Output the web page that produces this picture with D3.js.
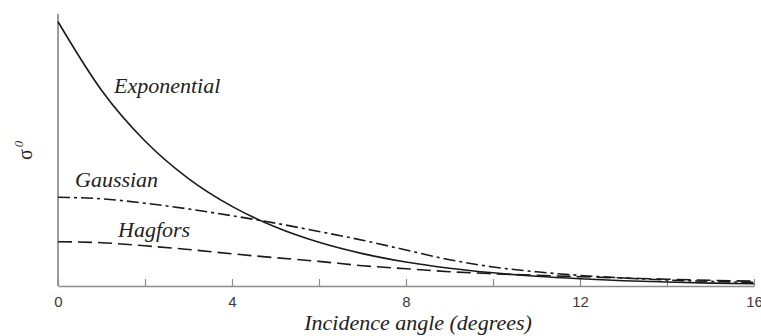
<!DOCTYPE html>
<html>
<head>
<meta charset="utf-8">
<script src="https://cdn.jsdelivr.net/npm/d3@7"></script>
<style>
  body { margin: 0; background: white; }
  svg { display: block; }
</style>
</head>
<body>
<script>
"use strict";

// incidence angle, degrees
const angles = [0, 1, 2, 3, 4, 5, 6, 7, 8, 9, 10, 11, 12, 13, 14, 15, 16];

// sigma0, arbitrary linear units
const exponential = [264.3, 195.8, 145.0, 107.4, 79.6, 59.0, 43.7, 32.4, 24.0, 17.8, 13.2, 9.7, 7.2, 5.3, 4.0, 2.9, 2.2];
const gaussian = [88.7, 87.2, 82.8, 77.0, 70.3, 62.8, 54.5, 45.8, 36.0, 26.3, 19.0, 14.2, 10.6, 8.0, 6.0, 4.6, 3.6];
const hagfors = [44.3, 43.3, 40.2, 36.5, 32.2, 28.3, 24.6, 20.3, 17.3, 14.3, 12.3, 10.7, 9.3, 8.0, 6.8, 5.7, 4.8];

const xTicks = [0, 2, 4, 6, 8, 10, 12, 14, 16];
const xTickLabels = [0, 4, 8, 12, 16];

const width = 761;
const height = 336;
const margin = { top: 14, right: 7, bottom: 50, left: 58 };

const svg = d3.select("body")
  .append("svg")
    .attr("width", width)
    .attr("height", height);

const x = d3.scaleLinear()
  .domain([0, 16])
  .range([margin.left, width - margin.right]);

const y = d3.scaleLinear()
  .domain([0, 272])
  .range([height - margin.bottom, margin.top]);

const axisColor = "#8c8c8c";

// y axis is just a bare line, no ticks
svg.append("line")
  .attr("x1", x(0)).attr("x2", x(0))
  .attr("y1", y(272)).attr("y2", y(0))
  .attr("stroke", axisColor)
  .attr("stroke-width", 1.7);

const xAxis = d3.axisBottom(x)
  .tickValues(xTicks)
  .tickSizeInner(-7)
  .tickSizeOuter(0)
  .tickFormat((d) => xTickLabels.includes(d) ? d : "");

const gx = svg.append("g")
  .attr("transform", `translate(0,${y(0)})`)
  .call(xAxis);

gx.select(".domain")
  .attr("stroke", axisColor)
  .attr("stroke-width", 1.7);
gx.selectAll(".tick line")
  .attr("stroke", axisColor)
  .attr("stroke-width", 1.2);
gx.selectAll(".tick text")
  .attr("y", 10)
  .attr("fill", "#3a3a3a")
  .style("font-family", "'Liberation Sans', Arial, sans-serif")
  .style("font-size", "15px");

// curves
const series = [
  { name: "Exponential", values: exponential, dash: null },
  { name: "Gaussian", values: gaussian, dash: "12,4,3,4" },
  { name: "Hagfors", values: hagfors, dash: "14,6" },
];

const line = d3.line()
  .x((d) => x(d[0]))
  .y((d) => y(d[1]))
  .curve(d3.curveMonotoneX);

svg.selectAll("path.curve")
  .data(series)
  .enter()
  .append("path")
    .attr("class", "curve")
    .attr("fill", "none")
    .attr("stroke", "#1a1a1a")
    .attr("stroke-width", 1.6)
    .attr("stroke-dasharray", (d) => d.dash)
    .attr("d", (d) => line(angles.map((a, i) => [a, d.values[i]])));

// curve labels
const labelFont = "'Liberation Serif', 'Times New Roman', serif";
const labels = [
  { text: "Exponential", x: 114, y: 93 },
  { text: "Gaussian", x: 75, y: 187 },
  { text: "Hagfors", x: 118, y: 237 },
];

svg.selectAll("text.curve-label")
  .data(labels)
  .enter()
  .append("text")
    .attr("class", "curve-label")
    .attr("x", (d) => d.x)
    .attr("y", (d) => d.y)
    .attr("fill", "#222")
    .style("font-family", labelFont)
    .style("font-style", "italic")
    .style("font-size", "22px")
    .text((d) => d.text);

// axis titles
svg.append("text")
  .attr("x", 418)
  .attr("y", 330)
  .attr("text-anchor", "middle")
  .attr("fill", "#222")
  .style("font-family", labelFont)
  .style("font-style", "italic")
  .style("font-size", "22px")
  .text("Incidence angle (degrees)");

const yTitle = svg.append("text")
  .attr("transform", "translate(32,160) rotate(-90)")
  .attr("fill", "#222")
  .style("font-family", labelFont)
  .style("font-size", "20px");
yTitle.append("tspan").text("σ");
yTitle.append("tspan")
  .attr("dy", -9)
  .attr("dx", 2)
  .style("font-size", "13px")
  .style("font-style", "italic")
  .text("0");
</script>
</body>
</html>
